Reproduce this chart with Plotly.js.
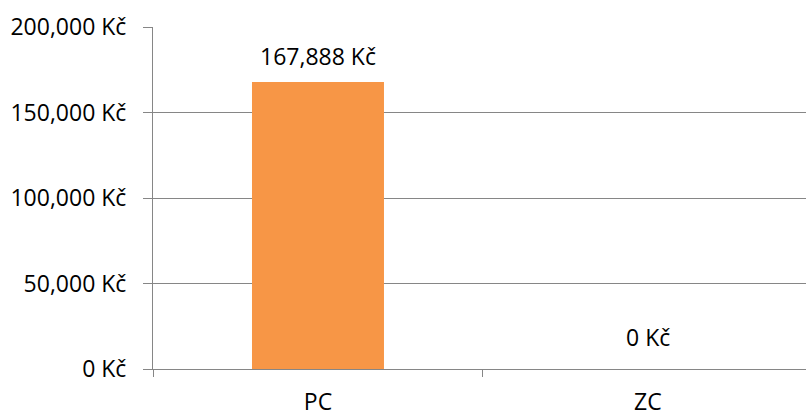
<!DOCTYPE html>
<html>
<head>
<meta charset="utf-8">
<script src="https://cdn.plot.ly/plotly-3.0.1.min.js"></script>
<style>
  html, body { margin: 0; padding: 0; background: #fff; }
  #chart { width: 806px; height: 417px; }
</style>
</head>
<body>
<div id="chart"></div>
<script>
// Costs per category
const categories = ['PC', 'ZC'];
const costs = [167888, 0];
const yTickValues = [0, 50000, 100000, 150000, 200000];
const yTickLabels = ['0 Kč', '50,000 Kč', '100,000 Kč', '150,000 Kč', '200,000 Kč'];

const FONT = '"Open Sans", sans-serif';
const SIZE = 23;
const GREY = '#868686';

function kc(v) {
  return v.toLocaleString('en-US') + ' Kč';
}

const trace = {
  type: 'bar',
  x: categories,
  y: costs,
  width: 0.4,
  marker: { color: '#F79646', line: { width: 0 } },
  hoverinfo: 'skip'
};

// Value labels above each bar (a zero-height bar gets its label lifted a bit more)
const annotations = categories.map((c, i) => ({
  x: c,
  y: costs[i],
  xref: 'x',
  yref: 'y',
  text: kc(costs[i]),
  showarrow: false,
  yanchor: 'bottom',
  yshift: costs[i] === 0 ? 14 : 8,
  font: { family: FONT, size: SIZE, color: '#000' }
}));

const layout = {
  width: 806,
  height: 417,
  margin: { l: 153, r: 0, t: 27, b: 48 },
  paper_bgcolor: '#fff',
  plot_bgcolor: '#fff',
  showlegend: false,
  font: { family: FONT, size: SIZE, color: '#000' },
  xaxis: {
    type: 'category',
    range: [-0.5, 1.479],
    tickson: 'boundaries',
    ticks: 'outside',
    ticklen: 7,
    tickcolor: GREY,
    showline: true,
    linecolor: GREY,
    linewidth: 1,
    showgrid: false,
    zeroline: false,
    tickfont: { family: FONT, size: SIZE, color: '#000' },
    ticklabelstandoff: 12
  },
  yaxis: {
    range: [0, 200000],
    tickvals: yTickValues,
    ticktext: yTickLabels,
    ticks: 'outside',
    ticklen: 9,
    tickcolor: GREY,
    showline: true,
    linecolor: GREY,
    linewidth: 1,
    showgrid: true,
    gridcolor: GREY,
    gridwidth: 1,
    zeroline: false,
    tickfont: { family: FONT, size: SIZE, color: '#000' },
    ticklabelstandoff: 12
  },
  annotations: annotations
};

Plotly.newPlot('chart', [trace], layout, { staticPlot: true, displayModeBar: false });
</script>
</body>
</html>
